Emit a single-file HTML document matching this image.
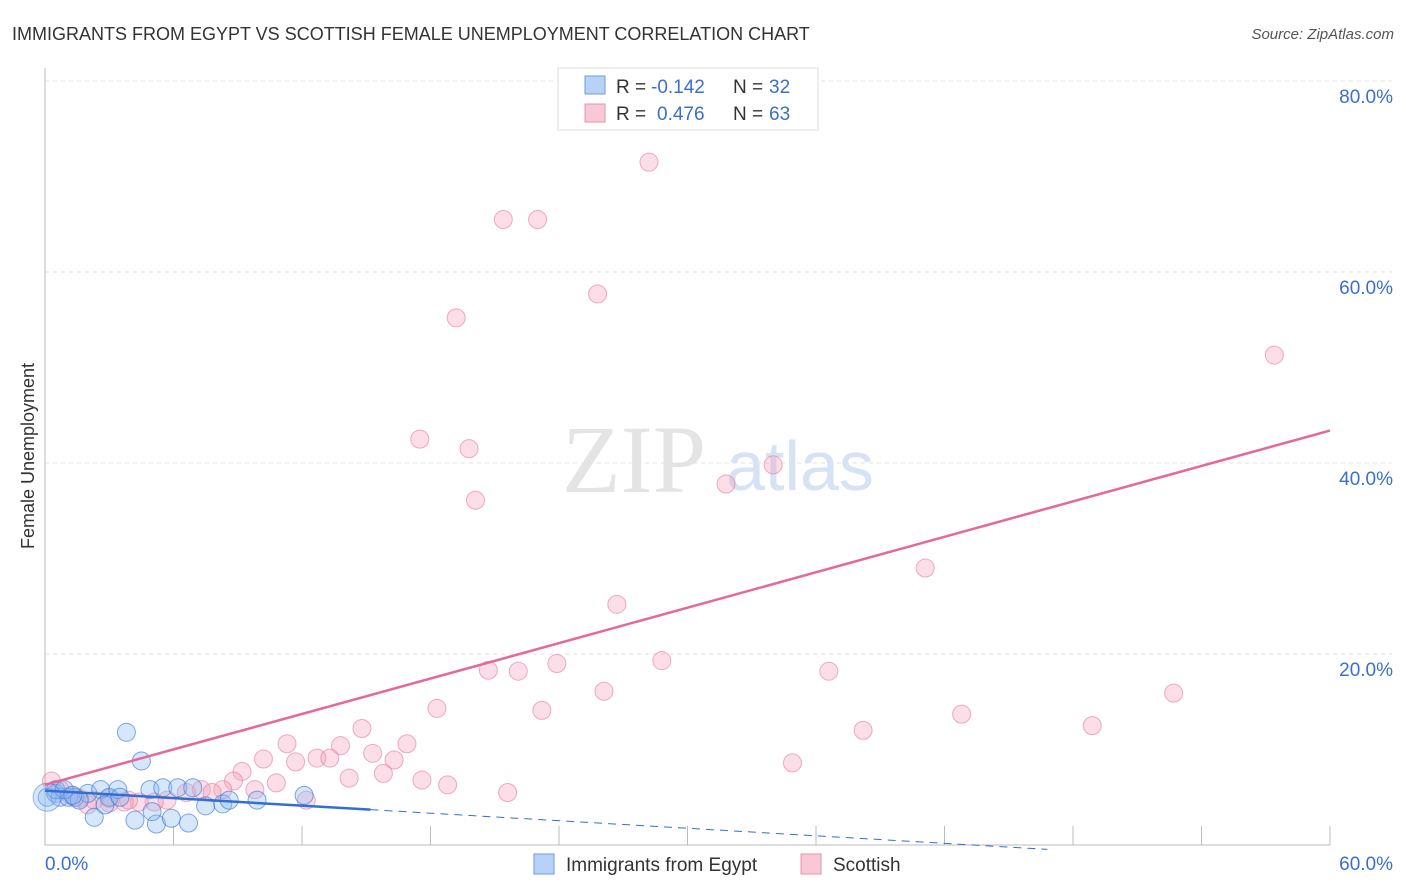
<!DOCTYPE html>
<html><head><meta charset="utf-8"><style>
body{margin:0;background:#fff;font-family:"Liberation Sans",sans-serif;}
#wrap{position:relative;width:1406px;height:892px;overflow:hidden}
</style></head><body>
<div id="wrap">
<svg id="chart" width="1406" height="892">
<text x="12" y="40" font-size="18" fill="#333">IMMIGRANTS FROM EGYPT VS SCOTTISH FEMALE UNEMPLOYMENT CORRELATION CHART</text>
<text x="1394" y="39" font-size="15" fill="#555" font-style="italic" text-anchor="end">Source: ZipAtlas.com</text>
<text x="634" y="492" font-size="96" fill="#e4e4e4" font-family="Liberation Serif,serif" text-anchor="middle">ZIP</text>
<text x="800" y="490" font-size="70" fill="#d5e3f5" text-anchor="middle">atlas</text>
<text transform="translate(34,456) rotate(-90)" font-size="18" fill="#333" text-anchor="middle">Female Unemployment</text>
<g id="grid"></g><g id="marks"></g>
<g>
<rect x="558" y="68" width="260" height="62" fill="#fff" stroke="#ddd"/>
<rect x="585" y="76" width="20" height="18" fill="#b8d2f5" stroke="#6a9ee0"/>
<rect x="585" y="104" width="20" height="18" fill="#f9c8d6" stroke="#e890aa"/>
<text x="616" y="93" font-size="19" fill="#333">R =</text>
<text x="651" y="93" font-size="19" fill="#3a6fd0">-0.142</text>
<text x="733" y="93" font-size="19" fill="#333">N =</text>
<text x="769" y="93" font-size="19" fill="#3a6fd0">32</text>
<text x="616" y="120" font-size="19" fill="#333">R =</text>
<text x="657" y="120" font-size="19" fill="#3a6fd0">0.476</text>
<text x="733" y="120" font-size="19" fill="#333">N =</text>
<text x="769" y="120" font-size="19" fill="#3a6fd0">63</text>
</g>
<g>
<rect x="534" y="854" width="20" height="20" fill="#b8d2f5" stroke="#6a9ee0"/>
<text x="566" y="871" font-size="19" fill="#333">Immigrants from Egypt</text>
<rect x="801" y="854" width="20" height="20" fill="#f9c8d6" stroke="#e890aa"/>
<text x="833" y="871" font-size="19" fill="#333">Scottish</text>
</g>
</svg></div>
<script>
const yTicks=[20,40,60,80];
const xTickLabels=["0.0%","60.0%"];
const blueX=[0.1,0.5,0.7,1.1,1.4,2.0,2.3,2.6,3.0,3.4,3.8,4.2,4.5,4.9,5.2,5.5,5.9,6.2,6.7,6.9,7.5,8.3,8.6,9.9,12.1,0.5,1.6,2.8,0.9,5.0,3.5,1.3];
const blueY=[5.0,5.4,5.0,5.0,5.0,5.4,2.9,5.8,5.0,5.8,11.8,2.6,8.8,5.8,2.2,6.0,2.8,6.0,2.3,6.0,4.1,4.3,4.7,4.7,5.2,5.8,4.7,4.2,5.8,3.5,5.0,5.2];
const pinkX=[28.2,21.4,23.0,25.8,19.2,57.4,17.5,19.8,20.1,34.0,31.8,41.1,26.7,28.8,23.9,20.7,22.1,26.1,36.6,18.3,23.2,52.7,42.8,48.9,38.2,14.8,11.3,16.9,13.8,10.2,15.3,12.7,13.3,11.7,16.3,34.9,9.2,15.8,14.2,10.8,8.8,17.6,18.8,21.6,12.2,7.3,8.3,9.8,7.8,6.6,5.7,5.1,4.4,3.7,3.0,2.3,1.6,1.2,0.7,0.3,3.0,3.9,2.0];
const pinkY=[71.5,65.5,65.5,57.7,55.2,51.3,42.5,41.5,36.1,39.8,37.8,29.0,25.2,19.3,19.0,18.3,18.2,16.1,18.2,14.3,14.1,15.9,13.7,12.5,12.0,12.2,10.6,10.6,10.4,9.0,9.6,9.1,9.1,8.7,8.9,8.6,7.7,7.5,7.0,6.5,6.7,6.8,6.3,5.5,4.7,5.8,5.8,5.8,5.5,5.5,4.7,4.5,4.5,4.5,4.4,4.7,4.9,5.2,5.8,6.7,4.9,4.7,4.2];
const pinkTrend=[6.3,43.4];
const blueTrend=[5.7,3.7];
const X=v=>45+v*1285/60, Y=v=>845-v*9.55;
const NS="http://www.w3.org/2000/svg";
const g=document.getElementById('grid'),m=document.getElementById('marks');
function mk(p,t,a){const e=document.createElementNS(NS,t);for(const k in a)e.setAttribute(k,a[k]);p.appendChild(e);return e;}
yTicks.forEach(t=>{
 const l=mk(g,'line',{x1:45,x2:1392,y1:Y(t),y2:Y(t),stroke:'#e2e2e2','stroke-dasharray':'4,4'});
 
 
 const tx=mk(g,'text',{x:1393,y:Y(t)+22,'font-size':19,fill:'#3a6fd0','text-anchor':'end'});tx.textContent=t.toFixed(1)+'%';
 
 
});
const ax=mk(g,'path',{d:'M45,68 V845 H1330',stroke:'#bbb',fill:'none'});


for(let i=1;i<=10;i++){const l=mk(g,'line',{x1:X(i*6),x2:X(i*6),y1:826,y2:845,stroke:'#bbb'});
 
 }
[[0,45,'start'],[60,1393,'end']].forEach((d,i)=>{const t=mk(g,'text',{x:d[1],y:870,'font-size':19,fill:'#3a6fd0','text-anchor':d[2]});t.textContent=xTickLabels[i];
 
 });
pinkX.forEach((x,i)=>{const c=mk(m,'circle',{cx:X(x),cy:Y(pinkY[i]),r:9,fill:'rgba(244,160,186,0.35)',stroke:'rgba(230,120,155,0.6)'});
 
 });
blueX.forEach((x,i)=>{const c=mk(m,'circle',{cx:X(x),cy:Y(blueY[i]),r:9,fill:'rgba(140,185,240,0.35)',stroke:'rgba(60,120,215,0.65)'});
 
 });
const bigb=mk(m,'circle',{cx:X(0.1),cy:Y(5),r:14,fill:'rgba(140,185,240,0.35)',stroke:'rgba(60,120,215,0.5)'});


const pl=mk(m,'line',{x1:X(0),y1:Y(pinkTrend[0]),x2:X(60),y2:Y(pinkTrend[1]),stroke:'#e4699a','stroke-width':2.5});


const bs=(blueTrend[1]-blueTrend[0])/15.2;
const bl=mk(m,'line',{x1:X(0),y1:Y(blueTrend[0]),x2:X(15.2),y2:Y(blueTrend[1]),stroke:'#2f6fd6','stroke-width':2.5});


const bd=mk(m,'line',{x1:X(15.2),y1:Y(blueTrend[1]),x2:X(46.8),y2:Y(blueTrend[0]+bs*46.8),stroke:'#2f6fd6','stroke-width':1,'stroke-dasharray':'8,6'});


</script>
</body></html>
